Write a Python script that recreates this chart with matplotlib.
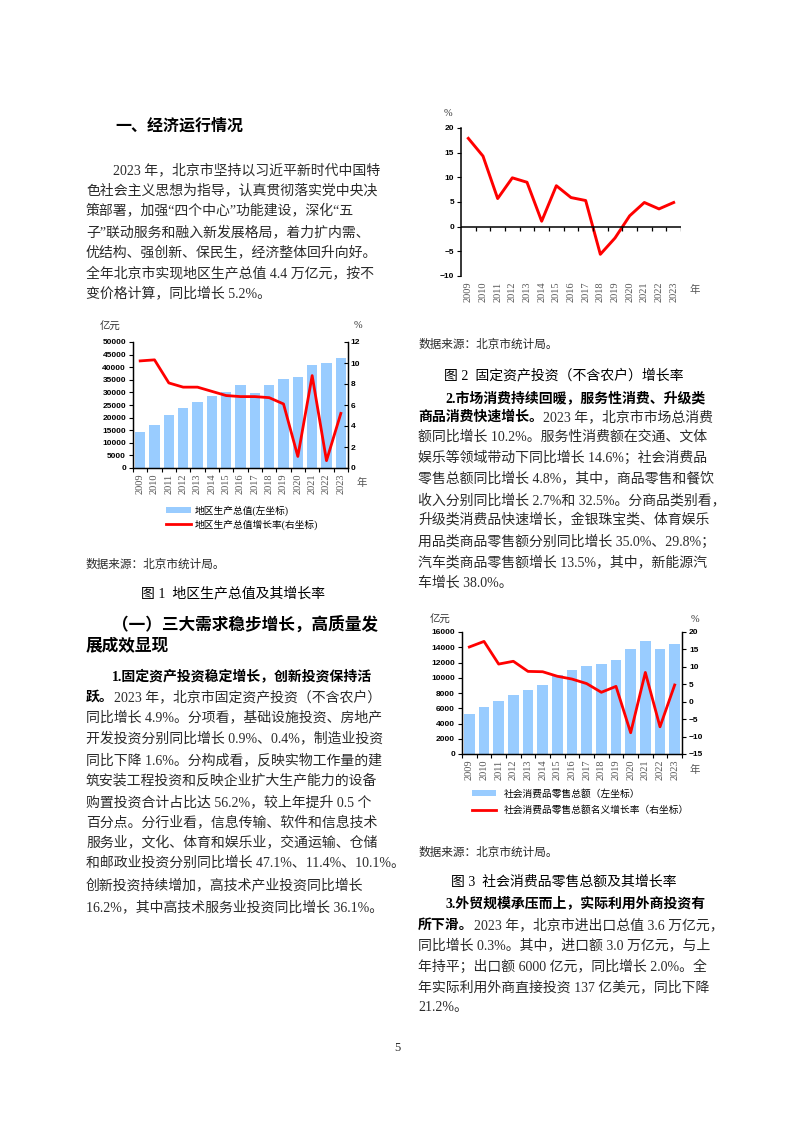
import numpy as np
import matplotlib
matplotlib.use("Agg")
import matplotlib.pyplot as plt

# Latin digits in a Times-like face, CJK falls through to Noto
plt.rcParams["font.family"] = ["Liberation Serif", "Noto Sans CJK SC", "DejaVu Sans"]

W, H = 794, 1123

# data
years = [str(y) for y in range(2009, 2024)]
gdp = [14200, 17200, 21100, 23800, 26300, 28700, 30100, 33000, 29900, 33100, 35400, 36100, 41000, 41600, 43800]
gdp_growth = [10.2, 10.3, 8.1, 7.7, 7.7, 7.3, 6.9, 6.8, 6.8, 6.7, 6.1, 1.1, 8.8, 0.7, 5.2]
fai_growth = [17.9, 14.3, 5.7, 9.9, 9.0, 1.1, 8.3, 5.9, 5.3, -5.6, -2.3, 2.2, 4.9, 3.6, 4.9]
retail = [5310, 6229, 6900, 7703, 8375, 9098, 10338, 11005, 11575, 11748, 12270, 13716, 14868, 13794, 14462]
retail_growth = [15.7, 17.3, 10.8, 11.6, 8.7, 8.6, 7.3, 6.5, 5.2, 2.7, 4.4, -8.9, 8.4, -7.2, 4.8]

BLUE = "#99CCFF"
TXT = "#2a2a2a"
BODY = 10

fig = plt.figure(figsize=(W / 100, H / 100), dpi=100)
x = np.arange(len(years))


def fx(v):
    return v / W


def fy(v):
    return 1 - v / H


def txt(px, py, s, size=BODY, weight="normal", color=TXT, ha="left", **kw):
    return fig.text(fx(px), fy(py), s, fontsize=size, fontweight=weight,
                    color=color, ha=ha, va="center", **kw)


def mixed(px, py, bold, rest):
    t = txt(px, py, bold, weight="bold", color="black")
    bb = t.get_window_extent(renderer=fig.canvas.get_renderer())
    fig.text(bb.x1 / fig.bbox.width, fy(py), rest, fontsize=BODY, color=TXT, va="center")


def num_labels(ticks):
    return [str(int(t)).replace("-", "\u2212") for t in ticks]


def year_axis(ax):
    ax.set_xlim(-0.5, 14.5)
    ax.set_xticks(x, years, rotation=90, fontfamily="Liberation Serif", fontsize=7.5, color="#555555")
    ax.set_xticks(np.arange(-0.5, 15), minor=True)
    ax.tick_params(axis="x", which="major", length=0, pad=4)
    ax.tick_params(axis="x", which="minor", length=3, direction="out", width=0.8)


def y_axis(ax, ticks, direction="out"):
    ax.set_yticks(ticks, num_labels(ticks), fontfamily="Liberation Sans", fontweight="bold", fontsize=6)
    ax.tick_params(axis="y", length=3, width=0.8, pad=2, direction=direction)


# ---------------- chart 1: GDP ----------------
ax1 = fig.add_axes([fx(133), fy(468), 215 / W, 126 / H])
bars1 = ax1.bar(x, gdp, width=0.72, color=BLUE, label="地区生产总值(左坐标)")
ax1.set_ylim(0, 50000)
y_axis(ax1, np.arange(0, 50001, 5000))
year_axis(ax1)
ax1b = ax1.twinx()
line1, = ax1b.plot(x, gdp_growth, color="red", lw=2, label="地区生产总值增长率(右坐标)")
ax1b.set_ylim(0, 12)
y_axis(ax1b, np.arange(0, 13, 2), direction="in")
for a in (ax1, ax1b):
    a.spines["top"].set_visible(False)
    for s in ("left", "right", "bottom"):
        a.spines[s].set_linewidth(0.9)
txt(110, 327, "亿元", size=7.5, ha="center", color="#333333")
txt(358, 325, "%", size=7.5, ha="center", color="#333333")
txt(362, 483, "年", size=7.5, ha="center", color="#555555")
fig.legend(handles=[bars1, line1], loc="upper left", bbox_to_anchor=(fx(166), fy(505)),
           frameon=False, fontsize=7, handlelength=2.6, handleheight=0.6,
           labelspacing=0.35, handletextpad=0.3, borderpad=0, borderaxespad=0)

# ---------------- chart 2: fixed asset investment ----------------
ax2 = fig.add_axes([fx(461), fy(276), 220 / W, 148 / H])
ax2.plot(x, fai_growth, color="red", lw=2.1)
ax2.set_ylim(-10, 20)
year_axis(ax2)
ax2.tick_params(axis="x", which="minor", length=0)
ax2.axhline(0, color="black", lw=1.1)
ax2.vlines(np.arange(0.5, 15), -0.8, 0, color="black", lw=0.9)
y_axis(ax2, np.arange(-10, 21, 5))
for s in ("top", "right", "bottom"):
    ax2.spines[s].set_visible(False)
ax2.spines["left"].set_linewidth(1.1)
txt(448, 113, "%", size=7.5, ha="center", color="#333333")
txt(695, 290, "年", size=7.5, ha="center", color="#555555")

# ---------------- chart 3: retail sales ----------------
ax3 = fig.add_axes([fx(462), fy(754), 220 / W, 122 / H])
bars3 = ax3.bar(x, retail, width=0.72, color=BLUE, label="社会消费品零售总额（左坐标）")
ax3.set_ylim(0, 16000)
y_axis(ax3, np.arange(0, 16001, 2000))
year_axis(ax3)
ax3b = ax3.twinx()
line3, = ax3b.plot(x, retail_growth, color="red", lw=2, label="社会消费品零售总额名义增长率（右坐标）")
ax3b.set_ylim(-15, 20)
y_axis(ax3b, np.arange(-15, 21, 5))
for a in (ax3, ax3b):
    a.spines["top"].set_visible(False)
    for s in ("left", "right", "bottom"):
        a.spines[s].set_linewidth(0.9)
txt(440, 620, "亿元", size=7.5, ha="center", color="#333333")
txt(695, 619, "%", size=7.5, ha="center", color="#333333")
txt(695, 770, "年", size=7.5, ha="center", color="#555555")
fig.legend(handles=[bars3, line3], loc="upper left", bbox_to_anchor=(fx(472), fy(789)),
           frameon=False, fontsize=7, handlelength=2.5, handleheight=0.6,
           labelspacing=0.7, handletextpad=0.8, borderpad=0, borderaxespad=0)

# ---------------- left column text ----------------
txt(115, 127, "一、经济运行情况", size=11.5, weight="bold", color="black")
para1 = [
    "2023 年，北京市坚持以习近平新时代中国特",
    "色社会主义思想为指导，认真贯彻落实党中央决",
    "策部署，加强“四个中心”功能建设，深化“五",
    "子”联动服务和融入新发展格局，着力扩内需、",
    "优结构、强创新、保民生，经济整体回升向好。",
    "全年北京市实现地区生产总值 4.4 万亿元，按不",
    "变价格计算，同比增长 5.2%。",
]
para1_y = [170, 190, 211, 232, 252, 273, 293]
for i, (s, py) in enumerate(zip(para1, para1_y)):
    txt(113 if i == 0 else 86, py, s)

txt(86, 565, "数据来源：北京市统计局。", size=8.4)
txt(233, 593, "图 1  地区生产总值及其增长率", ha="center", color="black")
txt(112, 625, "（一）三大需求稳步增长，高质量发", size=12, weight="bold", color="black")
txt(86, 647, "展成效显现", size=12, weight="bold", color="black")
txt(112, 677, "1.固定资产投资稳定增长，创新投资保持活", weight="bold", color="black")
mixed(86, 697, "跃。", "2023 年，北京市固定资产投资（不含农户）")
para2 = [
    "同比增长 4.9%。分项看，基础设施投资、房地产",
    "开发投资分别同比增长 0.9%、0.4%，制造业投资",
    "同比下降 1.6%。分构成看，反映实物工作量的建",
    "筑安装工程投资和反映企业扩大生产能力的设备",
    "购置投资合计占比达 56.2%，较上年提升 0.5 个",
    "百分点。分行业看，信息传输、软件和信息技术",
    "服务业，文化、体育和娱乐业，交通运输、仓储",
    "和邮政业投资分别同比增长 47.1%、11.4%、10.1%。",
    "创新投资持续增加，高技术产业投资同比增长",
    "16.2%，其中高技术服务业投资同比增长 36.1%。",
]
para2_y = [717, 738, 760, 780, 802, 822, 843, 863, 885, 907]
for s, py in zip(para2, para2_y):
    txt(86, py, s)

# ---------------- right column text ----------------
txt(418, 345, "数据来源：北京市统计局。", size=8.4)
txt(564, 375, "图 2  固定资产投资（不含农户）增长率", ha="center", color="black")
txt(445, 398, "2.市场消费持续回暖，服务性消费、升级类", weight="bold", color="black")
mixed(418, 417, "商品消费快速增长。", "2023 年，北京市市场总消费")
para3 = [
    "额同比增长 10.2%。服务性消费额在交通、文体",
    "娱乐等领域带动下同比增长 14.6%；社会消费品",
    "零售总额同比增长 4.8%，其中，商品零售和餐饮",
    "收入分别同比增长 2.7%和 32.5%。分商品类别看，",
    "升级类消费品快速增长，金银珠宝类、体育娱乐",
    "用品类商品零售额分别同比增长 35.0%、29.8%；",
    "汽车类商品零售额增长 13.5%，其中，新能源汽",
    "车增长 38.0%。",
]
para3_y = [437, 458, 478, 500, 520, 542, 562, 583]
for s, py in zip(para3, para3_y):
    txt(418, py, s)

txt(418, 853, "数据来源：北京市统计局。", size=8.4)
txt(564, 882, "图 3  社会消费品零售总额及其增长率", ha="center", color="black")
txt(445, 903, "3.外贸规模承压而上，实际利用外商投资有", weight="bold", color="black")
mixed(418, 925, "所下滑。", "2023 年，北京市进出口总值 3.6 万亿元，")
para4 = [
    "同比增长 0.3%。其中，进口额 3.0 万亿元，与上",
    "年持平；出口额 6000 亿元，同比增长 2.0%。全",
    "年实际利用外商直接投资 137 亿美元，同比下降",
    "21.2%。",
]
para4_y = [945, 967, 987, 1008]
for s, py in zip(para4, para4_y):
    txt(418, py, s)

txt(397, 1048, "5", size=9, ha="center")

fig.savefig("out.png", dpi=100)
